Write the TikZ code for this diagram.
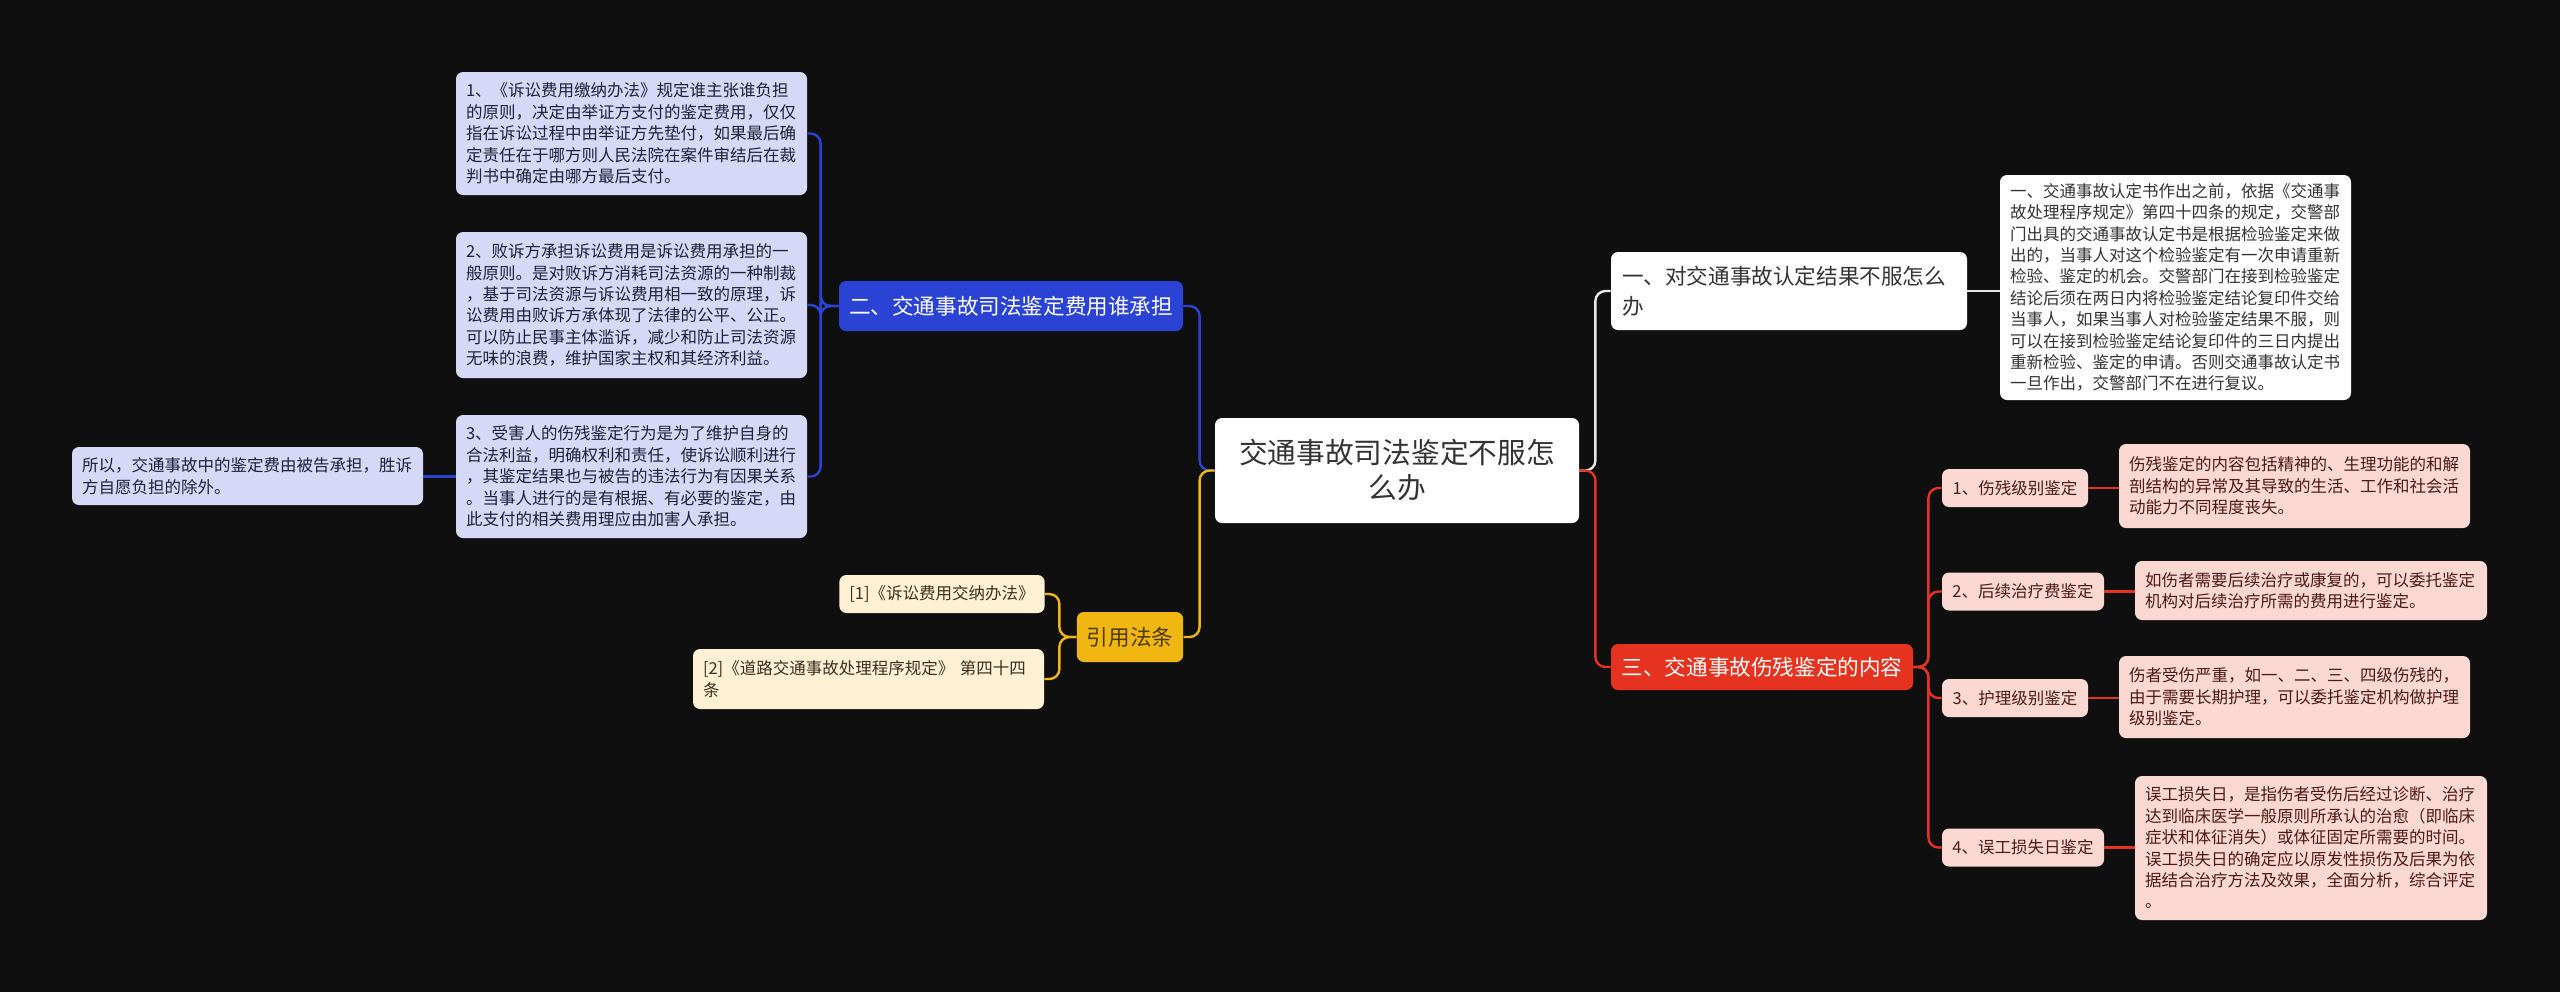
\documentclass[tikz,border=0pt]{standalone}
\usepackage{fontspec}
\setmainfont{Noto Sans CJK SC}
\definecolor{BG}{HTML}{0F0F0F}
\definecolor{RootText}{HTML}{333333}
\definecolor{FeeBlue}{HTML}{2B43D4}
\definecolor{Lav}{HTML}{D6D8F7}
\definecolor{LavText}{HTML}{202036}
\definecolor{LawYellow}{HTML}{F0B712}
\definecolor{LawText}{HTML}{4D3B00}
\definecolor{Cream}{HTML}{FFF2D4}
\definecolor{CreamText}{HTML}{3A3020}
\definecolor{QWhite}{HTML}{E8E8E8}
\definecolor{HurtRed}{HTML}{E6331F}
\definecolor{Pink}{HTML}{FCD8D2}
\definecolor{PinkText}{HTML}{4D1A14}

\begin{document}
\begin{tikzpicture}[x=0.5pt,y=-0.5pt,
    box/.style={rounded corners=3.5pt,inner ysep=0pt,inner xsep=5pt,align=left},
    root/.style={box,fill=white,text=RootText,align=center,font=\fontsize{14.35}{17.5}\selectfont},
    topic/.style={box,align=center,font=\fontsize{10.8}{15}\selectfont},
    leaf/.style={box,font=\fontsize{8.25}{10.7}\selectfont},
    link/.style={line width=1.2pt,rounded corners=5pt}]
  \fill[BG] (0,0) rectangle (2560,992);

  % centre
  \node[root,minimum width=182pt,minimum height=52.5pt] (root) at (1397,470.5) {交通事故司法鉴定不服怎\\么办};

  % left: fees
  \node[topic,fill=FeeBlue,text=white,minimum width=172pt,minimum height=25pt] (fee) at (1011,306) {二、交通事故司法鉴定费用谁承担};
  \node[leaf,fill=Lav,text=LavText,text width=165.5pt,minimum height=61.5pt] (lav1) at (631.5,133.5) {1、《诉讼费用缴纳办法》规定谁主张谁负担\\的原则，决定由举证方支付的鉴定费用，仅仅\\指在诉讼过程中由举证方先垫付，如果最后确\\定责任在于哪方则人民法院在案件审结后在裁\\判书中确定由哪方最后支付。};
  \node[leaf,fill=Lav,text=LavText,text width=165.5pt,minimum height=73pt] (lav2) at (631.5,305) {2、败诉方承担诉讼费用是诉讼费用承担的一\\般原则。是对败诉方消耗司法资源的一种制裁\\，基于司法资源与诉讼费用相一致的原理，诉\\讼费用由败诉方承体现了法律的公平、公正。\\可以防止民事主体滥诉，减少和防止司法资源\\无味的浪费，维护国家主权和其经济利益。};
  \node[leaf,fill=Lav,text=LavText,text width=165.5pt,minimum height=61.5pt] (lav3) at (631.5,476.5) {3、受害人的伤残鉴定行为是为了维护自身的\\合法利益，明确权利和责任，使诉讼顺利进行\\，其鉴定结果也与被告的违法行为有因果关系\\。当事人进行的是有根据、有必要的鉴定，由\\此支付的相关费用理应由加害人承担。};
  \node[leaf,fill=Lav,text=LavText,text width=165.5pt,minimum height=29pt] (lav4) at (247.5,476) {所以，交通事故中的鉴定费由被告承担，胜诉\\方自愿负担的除外。};

  % left: laws
  \node[topic,fill=LawYellow,text=LawText,minimum width=53pt,minimum height=25pt] (law) at (1130,637) {引用法条};
  \node[leaf,fill=Cream,text=CreamText,align=center,minimum width=102pt,minimum height=19pt] (ref1) at (942,594) {[1]《诉讼费用交纳办法》};
  \node[leaf,fill=Cream,text=CreamText,text width=165.5pt,minimum height=30pt] (ref2) at (868.5,679) {[2]《道路交通事故处理程序规定》 第四十四\\条};

  % right: objection
  \node[topic,fill=white,text=RootText,align=left,inner xsep=5.5pt,text width=167pt,minimum height=39pt] (q1) at (1789,291) {一、对交通事故认定结果不服怎么\\办};
  \node[leaf,fill=white,text=RootText,text width=165.5pt,minimum height=112.5pt] (qd) at (2175.5,287.5) {一、交通事故认定书作出之前，依据《交通事\\故处理程序规定》第四十四条的规定，交警部\\门出具的交通事故认定书是根据检验鉴定来做\\出的，当事人对这个检验鉴定有一次申请重新\\检验、鉴定的机会。交警部门在接到检验鉴定\\结论后须在两日内将检验鉴定结论复印件交给\\当事人，如果当事人对检验鉴定结果不服，则\\可以在接到检验鉴定结论复印件的三日内提出\\重新检验、鉴定的申请。否则交通事故认定书\\一旦作出，交警部门不在进行复议。};

  % right: injury appraisal
  \node[topic,fill=HurtRed,text=white,minimum width=151pt,minimum height=23pt] (q3) at (1762,667) {三、交通事故伤残鉴定的内容};
  \node[leaf,fill=Pink,text=PinkText,align=center,minimum width=73pt,minimum height=19pt] (c1) at (2015,488) {1、伤残级别鉴定};
  \node[leaf,fill=Pink,text=PinkText,align=center,minimum width=81pt,minimum height=19pt] (c2) at (2023,591.5) {2、后续治疗费鉴定};
  \node[leaf,fill=Pink,text=PinkText,align=center,minimum width=73pt,minimum height=19pt] (c3) at (2015,698) {3、护理级别鉴定};
  \node[leaf,fill=Pink,text=PinkText,align=center,minimum width=81pt,minimum height=19pt] (c4) at (2023,847.5) {4、误工损失日鉴定};
  \node[leaf,fill=Pink,text=PinkText,text width=165.5pt,minimum height=42pt] (d1) at (2294.5,486) {伤残鉴定的内容包括精神的、生理功能的和解\\剖结构的异常及其导致的生活、工作和社会活\\动能力不同程度丧失。};
  \node[leaf,fill=Pink,text=PinkText,text width=166pt,minimum height=29.5pt] (d2) at (2311,590.5) {如伤者需要后续治疗或康复的，可以委托鉴定\\机构对后续治疗所需的费用进行鉴定。};
  \node[leaf,fill=Pink,text=PinkText,text width=165.5pt,minimum height=41pt] (d3) at (2294.5,697) {伤者受伤严重，如一、二、三、四级伤残的，\\由于需要长期护理，可以委托鉴定机构做护理\\级别鉴定。};
  \node[leaf,fill=Pink,text=PinkText,text width=166pt,minimum height=72pt] (d4) at (2311,848) {误工损失日，是指伤者受伤后经过诊断、治疗\\达到临床医学一般原则所承认的治愈（即临床\\症状和体征消失）或体征固定所需要的时间。\\误工损失日的确定应以原发性损伤及后果为依\\据结合治疗方法及效果，全面分析，综合评定\\。};

  % connectors
  \draw[link,FeeBlue] (root.west) -- ++(-15,0) |- (fee.east);
  \draw[link,LawYellow] (root.west) -- ++(-15,0) |- (law.east);
  \draw[link,QWhite] (root.east) -- ++(16,0) |- (q1.west);
  \draw[link,HurtRed] (root.east) -- ++(16,0) |- (q3.west);
  \foreach \n in {lav1,lav2,lav3}
    \draw[link,FeeBlue] (fee.west) -- ++(-18,0) |- (\n.east);
  \draw[link,FeeBlue] (lav3.west) -- (lav3.west -| lav4.east);
  \foreach \n in {ref1,ref2}
    \draw[link,LawYellow] (law.west) -- ++(-17,0) |- (\n.east);
  \draw[link,QWhite] (q1.east) -- (q1.east -| qd.west);
  \foreach \n in {c1,c2,c3,c4}
    \draw[link,HurtRed] (q3.east) -- ++(15,0) |- (\n.west);
  \foreach \c/\d in {c1/d1,c2/d2,c3/d3,c4/d4}
    \draw[link,HurtRed] (\c.east) -- (\c.east -| \d.west);
\end{tikzpicture}
\end{document}
